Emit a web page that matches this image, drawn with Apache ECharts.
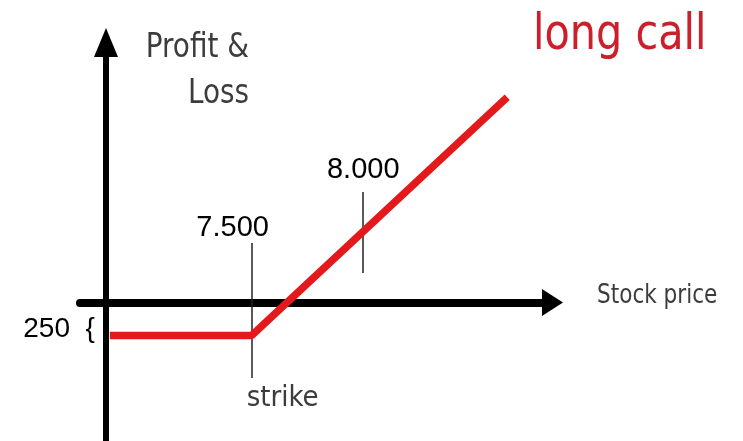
<!DOCTYPE html>
<html>
<head>
<meta charset="utf-8">
<script src="https://cdn.jsdelivr.net/npm/echarts@6/dist/echarts.min.js"></script>
<style>
html,body{margin:0;padding:0;background:#fff;}
#chart{width:743px;height:441px;}
</style>
</head>
<body>
<div id="chart"></div>
<script>
// Payoff line of a long call (stock price vs profit & loss)
var stockPrices = [6865, 7500, 8645];
var profitLoss = [-250, -250, 1555];
// marker lines: [price, from pnl, to pnl]
var strikePrice = 7500;
var strikeLine = [451, -572];
var refPrice = 8000;
var refLine = [837, 223];
// labels
var tickLabels = ['7.500', '8.000'];
var premiumLabel = '250  {';
var strikeLabel = 'strike';
var titleText = 'long call';
var xName = 'Stock price';
var yName = ['Profit &', 'Loss'];

var condensed = '"DejaVu Sans Condensed", "DejaVu Sans", sans-serif';
var arial = '"Liberation Sans", Arial, sans-serif';
var grey = '#3c3c3c';

var chart = echarts.init(document.getElementById('chart'));
var option = {
  backgroundColor: '#ffffff',
  animation: false,
  grid: {left: 80, right: 190.5, top: 42.5, bottom: 0, containLabel: false, outerBoundsMode: 'none'},
  xAxis: {
    type: 'value', min: 6731, max: 8848,
    axisLine: {show: true, onZero: true, symbol: ['none', 'triangle'], symbolSize: [27, 21],
      lineStyle: {color: '#000', width: 8}},
    axisTick: {show: false}, axisLabel: {show: false}, splitLine: {show: false}
  },
  yAxis: {
    type: 'value', min: -1049, max: 1970, offset: -26,
    axisLine: {show: true, onZero: false, symbol: ['none', 'triangle'], symbolSize: [24, 29],
      lineStyle: {color: '#000', width: 6}},
    axisTick: {show: false}, axisLabel: {show: false}, splitLine: {show: false}
  },
  graphic: [
    {type: 'text', x: 533, y: 36, scaleY: 1.1, style: {text: titleText, font: '46px ' + condensed, fill: '#cc1f2b', textAlign: 'left', textVerticalAlign: 'middle'}},
    {type: 'text', x: 249, y: 48, scaleY: 1.1, style: {text: yName[0], font: '31px ' + condensed, fill: grey, textAlign: 'right', textVerticalAlign: 'middle'}},
    {type: 'text', x: 249, y: 94, scaleY: 1.1, style: {text: yName[1], font: '31px ' + condensed, fill: grey, textAlign: 'right', textVerticalAlign: 'middle'}},
    {type: 'text', x: 597, y: 296, scaleY: 1.1, style: {text: xName, font: '24px ' + condensed, fill: grey, textAlign: 'left', textVerticalAlign: 'middle'}}
  ],
  series: [
    {
      type: 'line',
      data: stockPrices.map(function (p, i) { return [p, profitLoss[i]]; }),
      showSymbol: false, symbol: 'none',
      lineStyle: {color: '#e3191b', width: 7.5},
      z: 5,
      markLine: {
        silent: true, symbol: ['none', 'none'],
        lineStyle: {color: '#222', width: 1.5, type: 'solid'},
        label: {show: false},
        data: [
          [{coord: [strikePrice, strikeLine[0]]}, {coord: [strikePrice, strikeLine[1]]}],
          [{coord: [refPrice, refLine[0]]}, {coord: [refPrice, refLine[1]]}]
        ]
      },
      markPoint: {
        silent: true, symbol: 'circle', symbolSize: 0,
        itemStyle: {color: 'rgba(0,0,0,0)'},
        data: [
          {coord: [strikePrice, 561], label: {show: true, position: 'inside', formatter: tickLabels[0], offset: [-19, 0], fontFamily: arial, fontSize: 29, color: '#000'}},
          {coord: [refPrice, 1004], label: {show: true, position: 'inside', formatter: tickLabels[1], offset: [0, 0], fontFamily: arial, fontSize: 29, color: '#000'}},
          {coord: [strikePrice, -727], label: {show: true, position: 'inside', formatter: strikeLabel, offset: [31, 0], fontFamily: condensed, fontSize: 29, color: grey}},
          {coord: [stockPrices[0], profitLoss[0]], label: {show: true, position: 'inside', align: 'right', formatter: premiumLabel, offset: [-15, -6], fontFamily: arial, fontSize: 28, color: '#000'}}
        ]
      }
    }
  ]
};
chart.setOption(option);
</script>
</body>
</html>
